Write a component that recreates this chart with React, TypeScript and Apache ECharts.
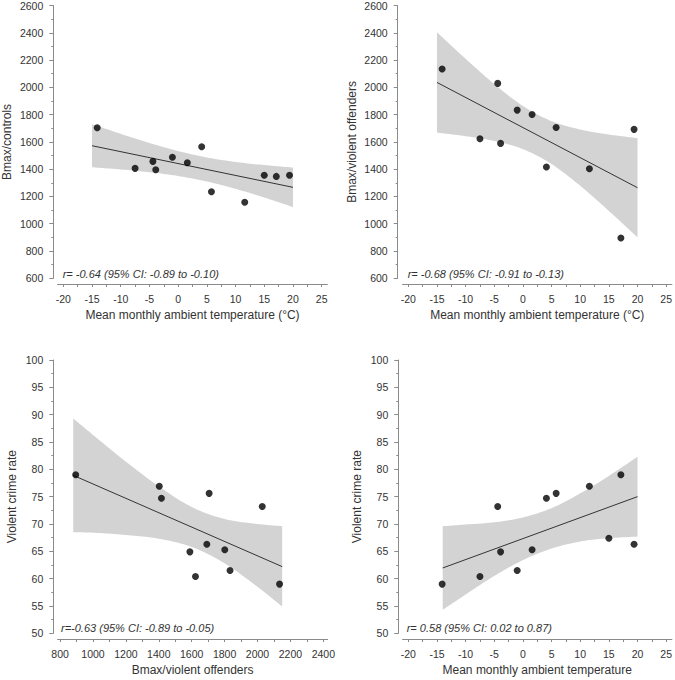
import React, { useEffect, useRef } from "react";
import * as echarts from "echarts";

// ---- observations (one per month) ----
const temperature = [-14.1, -7.5, -4.4, -3.9, -1.0, 1.6, 4.1, 5.8, 11.6, 15.0, 17.1, 19.4];
const bmaxControls = [1704, 1406, 1457, 1396, 1487, 1447, 1565, 1235, 1157, 1355, 1347, 1355];
const bmaxOffenders: (number | null)[] = [2134, 1623, 2029, 1589, 1833, 1801, 1416, 1706, 1403, null, 895, 1692];
const crimeRate = [59.0, 60.4, 73.2, 64.9, 61.5, 65.3, 74.7, 75.6, 76.9, 67.4, 79.0, 66.3];

// ---- regression lines ----
const fitTempX = [-15, 20];
const fitControlsY = [1572, 1267];
const fitOffendersY = [2036, 1264];
const fitBmaxX = [880, 2150];
const fitCrimeVsBmaxY = [78.9, 62.2];
const fitTempCrimeX = [-14, 20];
const fitCrimeVsTempY = [61.95, 75.0];

// ---- 95% confidence bands ----
const bandTempX = [-15, -10, -5, 0, 5, 10, 15, 20];
const controlsUpper = [1730, 1659, 1592, 1533, 1486, 1453, 1430, 1412];
const controlsLower = [1414, 1398, 1378, 1350, 1310, 1256, 1192, 1122];
const offendersUpper = [2404, 2209, 2024, 1863, 1752, 1691, 1654, 1628];
const offendersLower = [1668, 1642, 1607, 1547, 1438, 1278, 1094, 900];
const bandBmaxX = [880, 1000, 1200, 1400, 1600, 1800, 2000, 2150];
const crimeBmaxUpper = [89.3, 86.3, 81.4, 76.9, 73.1, 70.9, 70.0, 69.6];
const crimeBmaxLower = [68.5, 68.4, 68.0, 67.3, 65.8, 62.8, 58.5, 54.9];
const bandTempCrimeX = [-14, -10, -5, 0, 5, 10, 15, 20];
const crimeTempUpper = [69.6, 69.9, 70.3, 71.2, 72.9, 75.6, 78.8, 82.3];
const crimeTempLower = [54.3, 57.1, 60.5, 63.4, 65.5, 66.8, 67.4, 67.7];

// ---- ticks ----
const tempMajorTicks = [-20, -15, -10, -5, 0, 5, 10, 15, 20, 25];
const tempMinorTicks = [-17.5, -12.5, -7.5, -2.5, 2.5, 7.5, 12.5, 17.5, 22.5];
const bmaxMajorTicks = [800, 1000, 1200, 1400, 1600, 1800, 2000, 2200, 2400];
const bmaxMinorTicks = [900, 1100, 1300, 1500, 1700, 1900, 2100, 2300];

const annotations = [
  "r= -0.64 (95% CI: -0.89 to -0.10)",
  "r= -0.68 (95% CI: -0.91 to -0.13)",
  "r=-0.63 (95% CI: -0.89 to -0.05)",
  "r= 0.58 (95% CI: 0.02 to 0.87)",
];

const FONT = '"Liberation Sans", Arial, Helvetica, sans-serif';
const AXIS_COLOR = "#8a8a8a";
const TEXT_COLOR = "#333";
const BAND_COLOR = "#d3d3d3";

type Panel = {
  grid: { left: number; top: number; width: number; height: number };
  xMin: number;
  xMax: number;
  xMajor: number[];
  xMinor: number[];
  yMin: number;
  yMax: number;
  yInterval: number;
  xName: string;
  yName: string;
  yNameGap: number;
  yOffset: number;
  xs: (number | null)[];
  ys: (number | null)[];
  fitX: number[];
  fitY: number[];
  bandX: number[];
  bandUpper: number[];
  bandLower: number[];
  note: { text: string; x: number; y: number };
};

const panels: Panel[] = [
  {
    grid: { left: 57.6, top: 5.3, width: 269.8, height: 273 },
    xMin: -21, xMax: 26, xMajor: tempMajorTicks, xMinor: tempMinorTicks,
    yMin: 600, yMax: 2600, yInterval: 200,
    xName: "Mean monthly ambient temperature (°C)", yName: "Bmax/controls", yNameGap: 40, yOffset: 4.3,
    xs: temperature, ys: bmaxControls,
    fitX: fitTempX, fitY: fitControlsY,
    bandX: bandTempX, bandUpper: controlsUpper, bandLower: controlsLower,
    note: { text: annotations[0], x: 62.7, y: 274.3 },
  },
  {
    grid: { left: 402.6, top: 5.3, width: 269.8, height: 273 },
    xMin: -21, xMax: 26, xMajor: tempMajorTicks, xMinor: tempMinorTicks,
    yMin: 600, yMax: 2600, yInterval: 200,
    xName: "Mean monthly ambient temperature (°C)", yName: "Bmax/violent offenders", yNameGap: 40, yOffset: 4.9,
    xs: temperature, ys: bmaxOffenders,
    fitX: fitTempX, fitY: fitOffendersY,
    bandX: bandTempX, bandUpper: offendersUpper, bandLower: offendersLower,
    note: { text: annotations[1], x: 407.7, y: 274.3 },
  },
  {
    grid: { left: 57.6, top: 360, width: 270, height: 273.3 },
    xMin: 785, xMax: 2426, xMajor: bmaxMajorTicks, xMinor: bmaxMinorTicks,
    yMin: 50, yMax: 100, yInterval: 5,
    xName: "Bmax/violent offenders", yName: "Violent crime rate", yNameGap: 35, yOffset: 4.3,
    xs: bmaxOffenders, ys: crimeRate,
    fitX: fitBmaxX, fitY: fitCrimeVsBmaxY,
    bandX: bandBmaxX, bandUpper: crimeBmaxUpper, bandLower: crimeBmaxLower,
    note: { text: annotations[2], x: 61, y: 627.7 },
  },
  {
    grid: { left: 402.6, top: 360, width: 269.8, height: 273.3 },
    xMin: -21, xMax: 26, xMajor: tempMajorTicks, xMinor: tempMinorTicks,
    yMin: 50, yMax: 100, yInterval: 5,
    xName: "Mean monthly ambient temperature", yName: "Violent crime rate", yNameGap: 35, yOffset: 4.3,
    xs: temperature, ys: crimeRate,
    fitX: fitTempCrimeX, fitY: fitCrimeVsTempY,
    bandX: bandTempCrimeX, bandUpper: crimeTempUpper, bandLower: crimeTempLower,
    note: { text: annotations[3], x: 406.7, y: 627.7 },
  },
];

// Smooth (Catmull-Rom) drawing of an open curve through pixel points, for rendering only.
function smoothPixels(pts: number[][]): number[][] {
  const out: number[][] = [];
  const n = pts.length;
  const steps = 12;
  for (let i = 0; i < n - 1; i++) {
    const p0 = pts[Math.max(i - 1, 0)];
    const p1 = pts[i];
    const p2 = pts[i + 1];
    const p3 = pts[Math.min(i + 2, n - 1)];
    for (let s = 0; s < steps; s++) {
      const t = s / steps;
      const t2 = t * t;
      const t3 = t2 * t;
      const f = (a: number, b: number, c: number, d: number) =>
        0.5 * (2 * b + (-a + c) * t + (2 * a - 5 * b + 4 * c - d) * t2 + (-a + 3 * b - 3 * c + d) * t3);
      out.push([f(p0[0], p1[0], p2[0], p3[0]), f(p0[1], p1[1], p2[1], p3[1])]);
    }
  }
  out.push(pts[n - 1]);
  return out;
}

function buildOption() {
  const grid: any[] = [];
  const xAxis: any[] = [];
  const yAxis: any[] = [];
  const series: any[] = [];
  const graphic: any[] = [];

  panels.forEach((p, i) => {
    grid.push({ ...p.grid, containLabel: false });
    xAxis.push({
      gridIndex: i,
      type: "value",
      min: p.xMin,
      max: p.xMax,
      position: "bottom",
      offset: 5.7,
      name: p.xName,
      nameLocation: "middle",
      nameGap: 25,
      nameTextStyle: { fontFamily: FONT, fontSize: 12, color: TEXT_COLOR },
      axisLine: { show: true, onZero: false, lineStyle: { color: AXIS_COLOR, width: 1 } },
      axisTick: {
        show: true,
        length: 3,
        customValues: [...p.xMajor, ...p.xMinor],
        lineStyle: { color: AXIS_COLOR },
      },
      axisLabel: {
        customValues: p.xMajor,
        fontFamily: FONT,
        fontSize: 10.5,
        color: TEXT_COLOR,
        margin: 9,
        formatter: (v: number) => String(v),
      },
      splitLine: { show: false },
    });
    yAxis.push({
      gridIndex: i,
      type: "value",
      min: p.yMin,
      max: p.yMax,
      interval: p.yInterval,
      position: "left",
      offset: p.yOffset,
      name: p.yName,
      nameLocation: "middle",
      nameRotate: 90,
      nameGap: p.yNameGap,
      nameTextStyle: { fontFamily: FONT, fontSize: 12, color: TEXT_COLOR },
      axisLine: { show: true, onZero: false, lineStyle: { color: AXIS_COLOR, width: 1 } },
      axisTick: { show: true, length: 4, lineStyle: { color: AXIS_COLOR } },
      minorTick: { show: true, splitNumber: 2, length: 2, lineStyle: { color: AXIS_COLOR } },
      minorSplitLine: { show: false },
      axisLabel: {
        fontFamily: FONT,
        fontSize: 10.5,
        color: TEXT_COLOR,
        margin: 10,
        formatter: (v: number) => String(v),
      },
      splitLine: { show: false },
    });

    // confidence band as one filled polygon between the upper and lower bounds
    const bx = p.bandX;
    const bu = p.bandUpper;
    const bl = p.bandLower;
    series.push({
      type: "custom",
      xAxisIndex: i,
      yAxisIndex: i,
      silent: true,
      z: 1,
      clip: false,
      encode: { x: 0, y: [1, 2] },
      data: bx.map((x, k) => [x, bl[k], bu[k]]),
      renderItem: (params: any, api: any) => {
        if (params.dataIndex !== 0) return null;
        const up = bx.map((x, k) => api.coord([x, bu[k]]));
        const lo = bx.map((x, k) => api.coord([x, bl[k]]));
        const points = [...smoothPixels(up), ...smoothPixels(lo).reverse()];
        return {
          type: "polygon",
          shape: { points },
          style: { fill: BAND_COLOR, stroke: null },
        };
      },
    });
    series.push({
      type: "line",
      xAxisIndex: i,
      yAxisIndex: i,
      symbol: "none",
      silent: true,
      z: 3,
      lineStyle: { color: "#333", width: 1 },
      data: p.fitX.map((x, k) => [x, p.fitY[k]]),
    });
    const pts: number[][] = [];
    p.xs.forEach((x, k) => {
      const y = p.ys[k];
      if (x !== null && y !== null) pts.push([x, y]);
    });
    series.push({
      type: "scatter",
      xAxisIndex: i,
      yAxisIndex: i,
      symbol: "circle",
      symbolSize: 7,
      z: 4,
      itemStyle: { color: "#000" },
      data: pts,
    });

    graphic.push({
      type: "text",
      x: p.note.x,
      y: p.note.y,
      z: 10,
      style: {
        text: p.note.text,
        font: `italic 11px ${FONT}`,
        fill: TEXT_COLOR,
        verticalAlign: "middle",
      },
    });
  });

  return {
    animation: false,
    backgroundColor: "#ffffff",
    grid,
    xAxis,
    yAxis,
    series,
    graphic,
  };
}

export default function App() {
  const ref = useRef<HTMLDivElement>(null);
  useEffect(() => {
    if (!ref.current) return;
    const chart = echarts.init(ref.current, null, { renderer: "svg" });
    chart.setOption(buildOption() as any);
    return () => chart.dispose();
  }, []);
  return (
    <div
      ref={ref}
      style={{ position: "fixed", left: 0, top: 0, width: 675, height: 680, background: "#fff" }}
    />
  );
}
